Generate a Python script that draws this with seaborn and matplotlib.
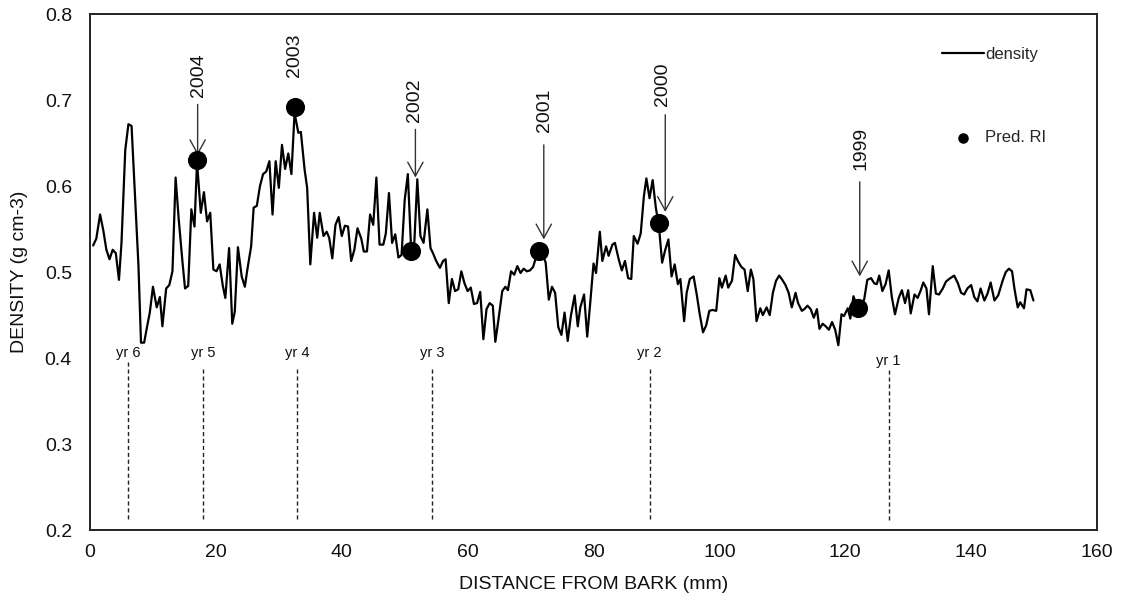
import numpy as np
import pandas as pd
import matplotlib
matplotlib.use("Agg")
import matplotlib.pyplot as plt
import seaborn as sns

# Density profile along the core (distance from bark in mm, density in g cm-3)
distance = [
    0.5, 1.0, 1.6, 2.1, 2.6, 3.1, 3.6, 4.1, 4.6, 5.0, 5.6, 6.1, 6.6, 7.1, 7.7, 8.1, 8.6, 9.0, 9.5, 10.0,
    10.6, 11.1, 11.5, 12.1, 12.6, 13.1, 13.6, 14.1, 14.7, 15.1, 15.6, 16.1, 16.6, 17.0, 17.6, 18.1, 18.6,
    19.1, 19.6, 20.1, 20.6, 21.1, 21.5, 22.1, 22.6, 23.0, 23.5, 24.1, 24.6, 25.0, 25.6, 26.0, 26.5, 27.0,
    27.5, 28.0, 28.5, 29.0, 29.5, 30.0,
    30.5, 31.0, 31.5, 32.0, 32.5, 33.1, 33.5, 34.1, 34.5, 35.0, 35.6, 36.1, 36.5, 37.1, 37.6, 38.0, 38.5,
    39.0, 39.5, 40.0, 40.5, 41.0, 41.5, 42.0, 42.5, 43.1, 43.5, 44.0, 44.5, 45.0, 45.5, 46.0, 46.6, 47.0,
    47.5, 48.0, 48.5, 49.0, 49.5, 50.0, 50.5, 51.0, 51.5, 52.0, 52.5, 53.0, 53.6, 54.1, 54.5, 55.0,
    55.6, 56.1, 56.5, 57.0, 57.5, 58.0, 58.5, 59.0, 59.5, 60.0, 60.5, 61.0, 61.5, 62.0, 62.5, 63.0, 63.5,
    64.0, 64.4, 64.9, 65.5, 66.0, 66.4, 66.9, 67.4, 67.9, 68.4, 68.9, 69.4, 69.9, 70.4, 70.9, 71.4, 72.0,
    72.4, 72.9, 73.4, 73.9, 74.4, 74.9, 75.4, 75.9, 76.4, 77.0, 77.5, 77.9, 78.5, 79.0, 79.5, 80.0, 80.4,
    81.0, 81.4, 82.0, 82.4, 83.0, 83.4, 84.0, 84.5, 85.0, 85.5, 86.0, 86.4, 87.0,
    87.5, 88.0, 88.4, 88.9, 89.4, 89.9, 90.4, 90.9, 91.4, 91.9, 92.4, 92.9, 93.4, 93.8, 94.4, 94.8, 95.3,
    95.9, 96.4, 96.9, 97.4, 97.9, 98.4, 98.9, 99.5, 100.0, 100.4, 101.0, 101.4, 102.0, 102.5, 103.0,
    103.5, 104.0, 104.5, 105.0, 105.4, 105.9, 106.5, 106.9, 107.5, 108.0, 108.5, 109.0, 109.5, 110.0,
    110.5, 111.0, 111.5, 112.1, 112.5, 113.1, 113.5, 114.0, 114.5, 115.0, 115.5,
    115.9, 116.4, 116.9, 117.4, 117.9, 118.4, 118.9, 119.4, 119.8, 120.4, 120.8, 121.3, 121.8, 122.5,
    123.0, 123.5, 124.1, 124.6, 125.0, 125.4, 125.9, 126.4, 126.9, 127.4, 127.9, 128.5, 129.0, 129.5,
    130.0, 130.4, 131.0, 131.5, 132.0, 132.4, 132.9, 133.3, 133.9, 134.4, 134.9, 135.5, 136.0, 136.5,
    137.3, 137.9, 138.4, 138.9, 139.4, 140.0, 140.5, 141.0, 141.5, 142.1, 142.6, 143.1, 143.7, 144.3,
    145.0, 145.5, 146.0, 146.5, 146.9, 147.4, 147.8, 148.4, 148.8, 149.4, 149.9,
]
density = [
    .531, .539, .567, .549, .526, .515, .526, .522, .491, .534, .642, .672, .670, .596, .507, .418, .418, .434, .453, .483,
    .459, .471, .437, .481, .485, .501, .610, .561, .511, .481, .484, .573, .553, .628, .569, .593, .559,
    .569, .503, .501, .509, .484, .470, .528, .440, .454, .529, .495, .483, .503, .530, .575, .577, .600,
    .614, .617, .629, .567, .629, .598,
    .648, .620, .638, .614, .685, .662, .663, .619, .598, .509, .569, .540, .569, .542, .547, .540, .516,
    .555, .564, .542, .554, .553, .513, .526, .551, .539, .524, .524, .567, .555, .610, .532, .532, .545,
    .592, .534, .544, .517, .520, .584, .614, .530, .530, .608, .542, .534, .573, .528, .522, .513,
    .505, .513, .515, .464, .492, .478, .480, .501, .487, .478, .482, .463, .464, .477, .422, .457, .464,
    .461, .419, .445, .478, .483, .479, .501, .497, .507, .499, .504, .501, .502, .506, .518, .524, .519,
    .511, .468, .483, .476, .436, .427, .453, .420, .449, .473, .437, .459, .474, .425, .466, .510, .499,
    .547, .513, .530, .519, .532, .534, .515, .502, .513, .493, .492, .542, .533,
    .545, .588, .609, .586, .607, .575, .553, .511, .526, .538, .495, .509, .486, .492, .443, .476, .492,
    .495, .474, .450, .430, .438, .455, .456, .455, .493, .482, .496, .482, .490, .520, .512,
    .506, .503, .478, .503, .492, .443, .458, .450, .459, .450, .476, .490, .496, .491,
    .485, .476, .459, .476, .464, .455, .457, .461, .457, .447, .457,
    .434, .440, .437, .433, .442, .433, .415, .451, .449, .458, .446, .472, .462, .463,
    .468, .491, .493, .487, .486, .496, .478, .486, .502, .471, .451, .470, .479, .464,
    .479, .452, .474, .470, .479, .488, .481, .451, .507, .475, .474, .481, .489, .492,
    .496, .487, .476, .474, .481, .485, .471, .466, .481, .467, .475, .488, .467, .473,
    .490, .500, .504, .501, .480, .459, .465, .458, .480, .479, .467,
]

# Predicted ring boundaries
ring_years = ["2004", "2003", "2002", "2001", "2000", "1999"]
ring_distance = [17.0, 32.5, 51.0, 71.4, 90.4, 122.0]
ring_density = [0.630, 0.692, 0.525, 0.524, 0.557, 0.458]
# label centre (x, y), arrow start y, arrow tip y (None = no arrow)
label_x = [17.2, 32.5, 51.6, 72.2, 91.0, 122.5]
label_y = [0.729, 0.752, 0.700, 0.688, 0.718, 0.644]
arrow_x = [17.1, None, 51.7, 72.1, 91.4, 122.3]
arrow_top = [0.695, None, 0.666, 0.648, 0.683, 0.605]
arrow_tip = [0.636, None, 0.610, 0.538, 0.570, 0.495]

# Measured annual ring positions
yr_labels = ["yr 6", "yr 5", "yr 4", "yr 3", "yr 2", "yr 1"]
yr_distance = [6.1, 18.0, 32.9, 54.4, 88.9, 126.9]
yr_text_y = [0.398, 0.398, 0.398, 0.398, 0.398, 0.389]
yr_line_top = [0.396, 0.387, 0.387, 0.387, 0.387, 0.386]
yr_line_bottom = 0.212

sns.set_style("white")
plt.rcParams["font.family"] = ["Liberation Sans", "DejaVu Sans"]

fig = plt.figure(figsize=(11.21, 6.15), dpi=100)
ax = fig.add_axes([0.0803, 0.138, 0.8983, 0.839])

profile = pd.DataFrame({"distance": distance, "density": density})
rings = pd.DataFrame({"distance": ring_distance, "density": ring_density})

sns.lineplot(data=profile, x="distance", y="density", ax=ax, color="black",
             linewidth=1.6, label="density", sort=False)
sns.scatterplot(data=rings, x="distance", y="density", ax=ax, color="black",
                s=190, edgecolor="black", linewidth=0, label="Pred. RI", zorder=4)

for lab, xd, yt, ytop in zip(yr_labels, yr_distance, yr_text_y, yr_line_top):
    ax.plot([xd, xd], [ytop, yr_line_bottom], color="#222222", lw=1.0,
            linestyle=(0, (3, 2)))
    ax.text(xd, yt, lab, ha="center", va="bottom", fontsize=10.5, color="#111111")

for yr, tx, ty, ax_x, a0, a1 in zip(ring_years, label_x, label_y, arrow_x, arrow_top, arrow_tip):
    ax.text(tx, ty, yr, rotation=90, ha="center", va="center", fontsize=14, color="#111111")
    if ax_x is not None:
        ax.annotate("", xy=(ax_x, a1), xytext=(ax_x, a0),
                    arrowprops=dict(arrowstyle="->,head_length=1.0,head_width=0.55",
                                    color="#333333", lw=1.0, mutation_scale=10,
                                    shrinkA=0, shrinkB=0))

ax.set_xlim(0, 160)
ax.set_ylim(0.2, 0.8)
ax.set_xticks(np.arange(0, 161, 20))
ax.set_yticks(np.arange(0.2, 0.81, 0.1))
ax.set_yticklabels([f"{v:.1f}" for v in np.arange(0.2, 0.81, 0.1)])
ax.tick_params(axis="both", which="major", direction="out", length=5, width=1,
               labelsize=14, color="#333333", labelcolor="#111111", pad=8)
ax.tick_params(axis="x", pad=5)
for sp in ax.spines.values():
    sp.set_visible(True)
    sp.set_color("#222222")
    sp.set_linewidth(1.4)

ax.set_xlabel("DISTANCE FROM BARK (mm)", fontsize=14, color="#111111", labelpad=11)
ax.set_ylabel("DENSITY (g cm-3)", fontsize=14, color="#111111", labelpad=12)

leg = ax.legend(loc="upper left", bbox_to_anchor=(0.846, 0.937), frameon=False,
                fontsize=12, borderpad=0, borderaxespad=0, handlelength=2.5,
                handletextpad=0.1, labelspacing=4.1, markerscale=0.55)

fig.savefig("out.png", dpi=100)
